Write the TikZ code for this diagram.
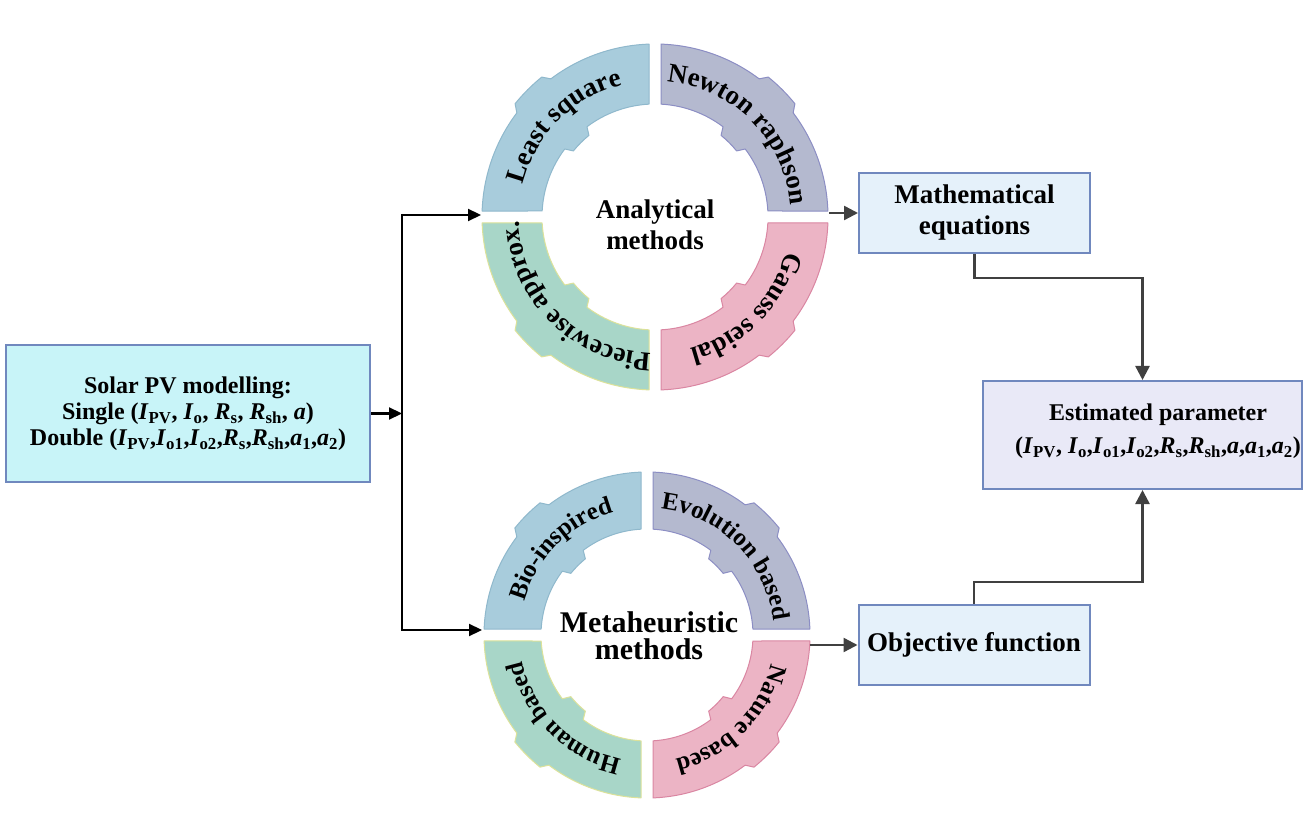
\documentclass[tikz,border=0pt]{standalone}
\usepackage{fontspec}
\setmainfont{Liberation Serif}
\usetikzlibrary{arrows.meta,decorations.text,calc}
\definecolor{pvfill}{HTML}{C8F4F8}
\definecolor{boxdraw}{HTML}{7088BE}
\definecolor{mfill}{HTML}{E5F1FA}
\definecolor{efill}{HTML}{E9E9F7}
\definecolor{pblue}{HTML}{A8CCDC}
\definecolor{pbluedk}{HTML}{8FB8CC}
\definecolor{plav}{HTML}{B4B9CF}
\definecolor{plavdk}{HTML}{8C8EC4}
\definecolor{ppink}{HTML}{ECB4C5}
\definecolor{ppinkdk}{HTML}{DA86A2}
\definecolor{pgreen}{HTML}{A8D6C8}
\definecolor{pgreendk}{HTML}{DCE29A}
\definecolor{arrgray}{HTML}{404040}
\newcommand\vI[1]{\textit{I}\textsubscript{#1}}
\newcommand\vR[1]{\textit{R}\textsubscript{#1}}
\newcommand\va[1]{\textit{a}\textsubscript{#1}}
\newcommand\gp{6}
\newcommand\bo{7}
\newcommand\bi{8}
\newcommand\puzzle[6]{%
 \begin{scope}[shift={(#1)},rotate=#2]
  \pgfmathsetmacro\aO{asin(\gp/#3)}
  \pgfmathsetmacro\aI{asin(\gp/#4)}
  \pgfmathsetmacro\aOt{90-\aO}
  \pgfmathsetmacro\aIt{90-\aI}
  \pgfmathsetmacro\Rb{#3+\bo}
  \pgfmathsetmacro\rb{#4-\bi}
  \filldraw[fill=#5,draw=#6,line width=1pt,line join=round]
   (\aOt:#3pt) arc[start angle=\aOt,end angle=53,radius=#3pt]
   -- (51:\Rb pt) arc[start angle=51,end angle=39,radius=\Rb pt]
   -- (37:#3pt) arc[start angle=37,end angle=\aO,radius=#3pt]
   -- (\aI:#4pt) arc[start angle=\aI,end angle=37,radius=#4pt]
   -- (39:\rb pt) arc[start angle=39,end angle=51,radius=\rb pt]
   -- (53:#4pt) arc[start angle=53,end angle=\aIt,radius=#4pt]
   -- cycle;
 \end{scope}}
\newcommand\arctext[5]{%
 \path[decorate,decoration={text along path,text align=center,text={#5}}]
   ([shift={(#3:#2pt)}]#1) arc[start angle=#3,end angle=#4,radius=#2pt];}
\newcommand\topfont{\bfseries\fontsize{27}{27}\selectfont}
\newcommand\botfont{\bfseries\fontsize{25}{25}\selectfont}
\tikzset{
  pvbox/.style={draw=boxdraw,fill=pvfill,line width=2pt,minimum width=364pt,minimum height=137pt,
    align=center,inner sep=0pt,font=\bfseries\fontsize{24}{26}\selectfont},
  resbox/.style={draw=boxdraw,fill=mfill,line width=2pt,minimum width=231pt,minimum height=80pt,
    align=center,inner sep=0pt,font=\bfseries\fontsize{27}{31}\selectfont},
  estbox/.style={draw=boxdraw,fill=efill,line width=2pt,minimum width=319pt,minimum height=108pt,inner sep=0pt},
  esttext/.style={align=center,inner sep=0pt,font=\bfseries\fontsize{24}{33}\selectfont},
  ctext/.style={align=center,inner sep=0pt},
  blkarrow/.style={draw=black,line width=2.2pt,-{Triangle[length=13pt,width=12pt]}},
  blkline/.style={draw=black,line width=2.2pt},
  gryarrow/.style={draw=arrgray,line width=2.4pt,-{Triangle[length=14pt,width=14pt]}},
}
\begin{document}
\begin{tikzpicture}[x=1pt,y=1pt]
\fill[white] (0,0) rectangle (1308,812);
\useasboundingbox (0,0) rectangle (1308,812);
% ring centres
\coordinate (tc) at (655,595);
\coordinate (bc) at (647,177);
% top ring
\puzzle{tc}{0}{173}{113}{plav}{plavdk}
\puzzle{tc}{90}{173}{113}{pblue}{pbluedk}
\puzzle{tc}{180}{173}{113}{pgreen}{pgreendk}
\puzzle{tc}{270}{173}{113}{ppink}{ppinkdk}
\arctext{tc}{136}{180}{90}{|\topfont|Least square}
\arctext{tc}{136}{90}{0}{|\topfont|Newton raphson}
\arctext{tc}{136}{0}{-90}{|\topfont|Gauss seidal}
\arctext{tc}{136}{270}{180}{|\topfont|Piecewise approx.}
% bottom ring
\puzzle{bc}{0}{163}{106}{plav}{plavdk}
\puzzle{bc}{90}{163}{106}{pblue}{pbluedk}
\puzzle{bc}{180}{163}{106}{pgreen}{pgreendk}
\puzzle{bc}{270}{163}{106}{ppink}{ppinkdk}
\arctext{bc}{127}{180}{90}{|\botfont|Bio-inspired}
\arctext{bc}{127}{90}{0}{|\botfont|Evolution based}
\arctext{bc}{127}{0}{-90}{|\botfont|Nature based}
\arctext{bc}{127}{270}{180}{|\botfont|Human based}
% centre texts
\node[ctext,font=\bfseries\fontsize{27}{31}\selectfont] (anal) at (655,587) {Analytical\\methods};
\node[ctext,font=\bfseries\fontsize{30}{27}\selectfont] (meta) at (649,176) {Metaheuristic\\methods};
% boxes
\node[pvbox] (pv) at (188,398.5) {Solar PV modelling:\\
  Single (\vI{PV}, \vI{o}, \vR{s}, \vR{sh}, \textit{a})\\
  Double (\vI{PV},\vI{o1},\vI{o2},\vR{s},\vR{sh},\va{1},\va{2})};
\node[resbox] (math) at (974.5,599) {Mathematical\\equations};
\node[resbox] (obj) at (974,167) {Objective function};
\node[estbox] (est) at (1142.5,377) {};
\node[esttext] (estt) at (1158,381) {Estimated parameter\\
  (\vI{PV}, \vI{o},\vI{o1},\vI{o2},\vR{s},\vR{sh},\textit{a},\va{1},\va{2})};
% connector points
\coordinate (jn) at (402,398.5);
\coordinate (jt) at (402,597);
\coordinate (jb) at (402,182);
\coordinate (tL) at (481,597);
\coordinate (bL) at (482,182);
\coordinate (tR) at (829,599);
\coordinate (bR) at (810,167);
% connectors
\draw[blkarrow] (pv.east) -- (jn);
\draw[blkline] ([yshift=1.1pt]jt) -- ([yshift=-1.1pt]jb);
\draw[blkarrow] (jt) -- (tL);
\draw[blkarrow] (jb) -- (bL);
\draw[gryarrow] (tR) -- (math.west);
\draw[gryarrow] (bR) -- (obj.west);
\draw[gryarrow] (math.south) -- ++(0,-24) -| (est.north);
\draw[gryarrow] (obj.north) -- ++(0,22) -| (est.south);
\end{tikzpicture}
\end{document}
